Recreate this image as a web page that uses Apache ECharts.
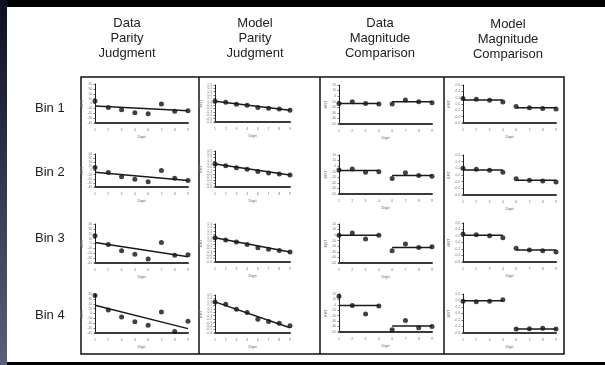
<!DOCTYPE html>
<html>
<head>
<meta charset="utf-8">
<script src="https://cdn.jsdelivr.net/npm/echarts@6/dist/echarts.min.js"></script>
<style>
  html, body { margin: 0; padding: 0; background: #000; }
  #chart { width: 605px; height: 365px; }
</style>
</head>
<body>
<div id="chart"></div>
<script>
// x categories (digit 5 is not used)
const digits = ['1', '2', '3', '4', '6', '7', '8', '9'];
const columnTitles = [
  ['Data', 'Parity', 'Judgment'],
  ['Model', 'Parity', 'Judgment'],
  ['Data', 'Magnitude', 'Comparison'],
  ['Model', 'Magnitude', 'Comparison']
];
const binLabels = ['Bin 1', 'Bin 2', 'Bin 3', 'Bin 4'];

// Data parity judgment (points + regression line ends)
const parityData = [
  [5, -8, -13, -19, -21, -1, -16, -15],
  [7, -5, -15, -21, -27, 0, -19, -24],
  [16, -2, -15, -22, -32, 2, -24, -23],
  [37, 7, -7, -17, -24, 3, -37, -16]
];
const parityFit = [[-5, -15], [-4, -24], [2, -27], [17, -31]];

// Model parity judgment
const parityModel = [
  [0.02, -0.01, -0.07, -0.1, -0.17, -0.19, -0.21, -0.25],
  [0.1, 0.05, -0.01, -0.06, -0.13, -0.17, -0.2, -0.23],
  [0.1, 0.04, -0.02, -0.09, -0.19, -0.23, -0.27, -0.31],
  [0.3, 0.23, 0.09, -0.01, -0.2, -0.27, -0.32, -0.39]
];
const parityModelFit = [[0.02, -0.25], [0.1, -0.23], [0.1, -0.31], [0.3, -0.45]];

// Data magnitude comparison (points + small/large level)
const magData = [
  [-13, -10, -13, -14, -14, -7, -10, -12],
  [-7, -5, -11, -10, -22, -12, -17, -18],
  [0, 4, -7, 0, -28, -16, -22, -21],
  [16, -1, -17, -2, -46, -29, -42, -40]
];
const magFit = [[-13, -10], [-8, -17], [0, -22], [-1, -39]];

// Model magnitude comparison
const magModel = [
  [0.17, 0.15, 0.12, 0.06, -0.08, -0.12, -0.14, -0.16],
  [0.2, 0.17, 0.14, 0.08, -0.11, -0.16, -0.18, -0.21],
  [0.26, 0.24, 0.21, 0.15, -0.18, -0.23, -0.25, -0.29],
  [0.38, 0.36, 0.38, 0.42, -0.48, -0.47, -0.45, -0.48]
];
const magModelFit = [[0.13, -0.12], [0.15, -0.16], [0.22, -0.23], [0.39, -0.48]];

// y ranges per column
const yRanges = [
  { min: -40, max: 40, interval: 10 },
  { min: -0.6, max: 0.5, interval: 0.1 },
  { min: -50, max: 20, interval: 10 },
  { min: -0.6, max: 0.6, interval: 0.2 }
];

// layout
const colLeft = [95, 215, 339, 463];
const colRight = [188, 290, 432, 556];
const gridTops = [[84, 85, 85, 85], [154, 151, 155, 155], [224, 224, 224, 223], [294, 295, 294, 294]];
const gridBottoms = [[123, 122, 124, 123], [187, 187, 194, 195], [263, 262, 263, 262], [333, 333, 332, 333]];
const titleX = [127, 255, 380, 508];
const binY = [108, 172, 238, 315];

const chart = echarts.init(document.getElementById('chart'));

const grids = [], xAxes = [], yAxes = [], series = [];
const pointStyle = { color: '#111' };
const lineStyle = { color: '#1a1a1a', width: 1.5 };

for (let r = 0; r < 4; r++) {
  for (let c = 0; c < 4; c++) {
    const idx = r * 4 + c;
    grids.push({
      left: colLeft[c],
      width: colRight[c] - colLeft[c],
      top: gridTops[r][c],
      height: gridBottoms[r][c] - gridTops[r][c]
    });
    xAxes.push({
      gridIndex: idx,
      type: 'category',
      data: digits,
      boundaryGap: false,
      name: 'Digit',
      nameLocation: 'middle',
      nameGap: 12,
      nameTextStyle: { fontSize: 4, color: '#666' },
      axisLine: { onZero: false, lineStyle: { color: '#3a3a3a', width: 2 } },
      axisTick: { show: false },
      axisLabel: { fontSize: 3.5, color: '#777', margin: 5 },
      splitLine: { show: false }
    });
    const yr = yRanges[c];
    yAxes.push({
      gridIndex: idx,
      type: 'value',
      min: yr.min,
      max: yr.max,
      interval: yr.interval,
      name: 'ΔRT',
      nameLocation: 'middle',
      nameRotate: 90,
      nameGap: 11,
      nameTextStyle: { fontSize: 4, color: '#777' },
      axisLine: { show: true, lineStyle: { color: '#222', width: 1 } },
      axisTick: { show: true, length: 1.5, lineStyle: { color: '#777' } },
      axisLabel: {
        fontSize: 3.2, color: '#777', margin: 3,
        formatter: (v) => (c === 1 || c === 3) ? (+v).toFixed(1) : String(Math.round(v))
      },
      splitLine: { show: false }
    });

    let pts, fit, split;
    if (c === 0) { pts = parityData[r]; fit = parityFit[r]; split = false; }
    if (c === 1) { pts = parityModel[r]; fit = parityModelFit[r]; split = false; }
    if (c === 2) { pts = magData[r]; fit = magFit[r]; split = true; }
    if (c === 3) { pts = magModel[r]; fit = magModelFit[r]; split = true; }

    if (split) {
      series.push({
        type: 'line', xAxisIndex: idx, yAxisIndex: idx, symbol: 'none',
        lineStyle: lineStyle, silent: true,
        data: [['1', fit[0]], ['4', fit[0]]]
      });
      series.push({
        type: 'line', xAxisIndex: idx, yAxisIndex: idx, symbol: 'none',
        lineStyle: lineStyle, silent: true,
        data: [['6', fit[1]], ['9', fit[1]]]
      });
    } else {
      series.push({
        type: 'line', xAxisIndex: idx, yAxisIndex: idx, symbol: 'none',
        lineStyle: lineStyle, silent: true,
        data: [['1', fit[0]], ['9', fit[1]]]
      });
    }
    series.push({
      type: 'scatter', xAxisIndex: idx, yAxisIndex: idx,
      symbol: 'circle', symbolSize: 5,
      itemStyle: pointStyle, silent: true,
      data: pts.map((v, i) => [digits[i], v])
    });
  }
}

const graphics = [
  { type: 'rect', shape: { x: 0, y: 0, width: 605, height: 365 }, style: { fill: '#000' } },
  {
    type: 'rect', shape: { x: 0, y: 0, width: 7, height: 365 },
    style: {
      fill: new echarts.graphic.LinearGradient(0, 0, 0, 1, [
        { offset: 0, color: '#0e0e22' },
        { offset: 1, color: '#5a5f7a' }
      ])
    }
  },
  { type: 'rect', shape: { x: 7, y: 7, width: 598, height: 355 }, style: { fill: '#fff' } },
  { type: 'rect', shape: { x: 81, y: 77, width: 483, height: 277 }, style: { fill: 'none', stroke: '#111', lineWidth: 1.5 } }
];
[199, 320, 444].forEach((x) => {
  graphics.push({ type: 'line', shape: { x1: x, y1: 77, x2: x, y2: 354 }, style: { stroke: '#111', lineWidth: 1.5 } });
});
columnTitles.forEach((lines, c) => {
  lines.forEach((t, i) => {
    graphics.push({
      type: 'text',
      style: {
        text: t, x: titleX[c], y: (c === 3 ? 24 : 23) + i * 15,
        align: 'center', verticalAlign: 'middle',
        font: '13px "Liberation Sans", Arial, sans-serif', fill: '#222'
      }
    });
  });
});
binLabels.forEach((t, r) => {
  graphics.push({
    type: 'text',
    style: {
      text: t, x: 35, y: binY[r], align: 'left', verticalAlign: 'middle',
      font: '13px "Liberation Sans", Arial, sans-serif', fill: '#222'
    }
  });
});

chart.setOption({
  animation: false,
  backgroundColor: 'transparent',
  graphic: { elements: graphics },
  grid: grids,
  xAxis: xAxes,
  yAxis: yAxes,
  series: series
});
</script>
</body>
</html>
